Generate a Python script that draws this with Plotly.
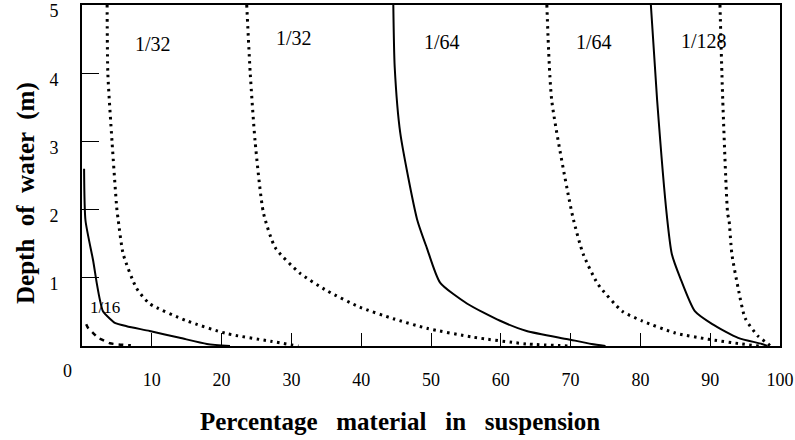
import plotly.graph_objects as go

# ---- data (x = % material in suspension, y = depth m) ----
s16_x = [0.3, 0.5, 1.6, 2.1, 2.6, 3.0, 4.0, 4.7, 6.4, 9.7, 14.0, 17.9, 21.2]
s16_y = [2.6, 1.84, 1.25, 0.93, 0.66, 0.51, 0.40, 0.34, 0.29, 0.22, 0.12, 0.03, 0.0]

d16_x = [0.6, 0.9, 1.5, 2.3, 2.7, 4.0, 5.5, 7.0]
d16_y = [0.32, 0.26, 0.2, 0.12, 0.1, 0.04, 0.02, 0.01]

p32a_x = [3.6, 3.7, 4.3, 5.0, 5.2, 5.9, 7.8, 9.7, 15.0, 20.8, 27.0, 31.0]
p32a_y = [5.0, 4.0, 3.0, 2.0, 1.84, 1.35, 0.85, 0.62, 0.37, 0.18, 0.07, 0.0]

p32b_x = [23.6, 24.1, 24.8, 26.0, 27.7, 31.2, 35.1, 39.8, 44.6, 49.4, 56.0, 63.7, 70.0]
p32b_y = [5.0, 4.0, 3.0, 1.95, 1.44, 1.07, 0.81, 0.57, 0.40, 0.26, 0.13, 0.03, 0.0]

s64_x = [44.6, 44.8, 45.6, 48.0, 49.4, 51.3, 55.2, 59.9, 63.7, 69.6, 73.0, 75.0]
s64_y = [5.0, 4.09, 3.12, 1.86, 1.44, 0.93, 0.62, 0.37, 0.22, 0.10, 0.03, 0.0]

p64_x = [66.6, 67.3, 70.3, 71.8, 73.9, 77.4, 80.2, 85.0, 89.7, 94.5, 97.0]
p64_y = [5.0, 3.6, 1.9, 1.35, 0.91, 0.51, 0.37, 0.19, 0.10, 0.03, 0.0]

s128_x = [81.5, 82.4, 83.8, 84.5, 85.7, 87.8, 90.3, 94.0, 97.4, 98.2]
s128_y = [5.0, 3.6, 1.9, 1.35, 1.0, 0.51, 0.32, 0.12, 0.03, 0.0]

p128_x = [91.4, 91.8, 92.5, 92.7, 93.1, 94.0, 95.0, 96.8, 98.3, 98.6]
p128_y = [5.0, 3.6, 1.94, 1.84, 1.35, 0.85, 0.41, 0.15, 0.03, 0.0]

label_text = ["1/32", "1/32", "1/64", "1/64", "1/128", "1/16"]
label_x = [10.2, 30.4, 51.6, 73.4, 89.1, 3.3]
label_y = [4.43, 4.52, 4.46, 4.46, 4.47, 0.57]

x_ticks = [10, 20, 30, 40, 50, 60, 70, 80, 90, 100]
y_ticks = [1, 2, 3, 4, 5]

x_title = "Percentage   material   in   suspension"
y_title = "Depth  of  water  (m)"

FONT = "Liberation Serif"
solid = dict(color="black", width=2)
dotted = dict(color="black", width=3, dash="2.5px,4.5px")
dashed = dict(color="black", width=2.5, dash="5px,5px")

fig = go.Figure()
for xs, ys, ln in [
    (s16_x, s16_y, solid), (d16_x, d16_y, dashed),
    (p32a_x, p32a_y, dotted), (p32b_x, p32b_y, dotted),
    (s64_x, s64_y, solid), (p64_x, p64_y, dotted),
    (s128_x, s128_y, solid), (p128_x, p128_y, dotted),
]:
    fig.add_trace(go.Scatter(x=xs, y=ys, mode="lines", line=dict(shape="spline", smoothing=0.6, **ln),
                             showlegend=False, hoverinfo="skip"))

for t, x, y in zip(label_text, label_x, label_y):
    fig.add_annotation(x=x, y=y, text=t, showarrow=False, xanchor="center", yanchor="middle",
                       font=dict(family=FONT, size=17 if t == "1/16" else 20, color="black"))

L, R, T, B = 82, 15, 5, 94
W, H = 795, 440
pw, ph = W - L - R, H - T - B

def px_to_domain(px, py):
    return (px - L) / pw, (H - B - py) / ph

x0, y0 = px_to_domain(67, 371)
fig.add_annotation(x=x0, y=y0, xref="x domain", yref="y domain", text="0",
                   xanchor="center", yanchor="middle",
                   showarrow=False, font=dict(family=FONT, size=18, color="black"))
xt, yt = px_to_domain(400, 421)
fig.add_annotation(x=xt, y=yt, xref="x domain", yref="y domain", text="<b>" + x_title + "</b>",
                   xanchor="center", yanchor="middle",
                   showarrow=False, font=dict(family=FONT, size=25, color="black"))
xy, yy = px_to_domain(26, 193)
fig.add_annotation(x=xy, y=yy, xref="x domain", yref="y domain", text="<b>" + y_title + "</b>",
                   xanchor="center", yanchor="middle",
                   textangle=-90, showarrow=False, font=dict(family=FONT, size=25, color="black"))

fig.update_layout(
    width=W, height=H,
    margin=dict(l=L, r=R, t=T, b=B),
    plot_bgcolor="white", paper_bgcolor="white",
    font=dict(family=FONT, size=18, color="black"),
    xaxis=dict(range=[0, 100], tickvals=x_ticks, ticks="inside", ticklen=13, tickwidth=1,
               tickcolor="black", showgrid=False, zeroline=False, showline=True,
               linecolor="black", linewidth=2, mirror=True, ticklabelstandoff=16,
               automargin=False,
               tickfont=dict(family=FONT, size=18)),
    yaxis=dict(range=[0, 5], tickvals=y_ticks, ticks="inside", ticklen=17, tickwidth=1,
               tickcolor="black", showgrid=False, zeroline=False, showline=True,
               linecolor="black", linewidth=2, mirror=True, ticklabelstandoff=18,
               ticklabelshift=6, automargin=False,
               tickfont=dict(family=FONT, size=18)),
)

fig.write_html("out.html", post_script="document.body.style.margin='0';",
               config={"displayModeBar": False})
